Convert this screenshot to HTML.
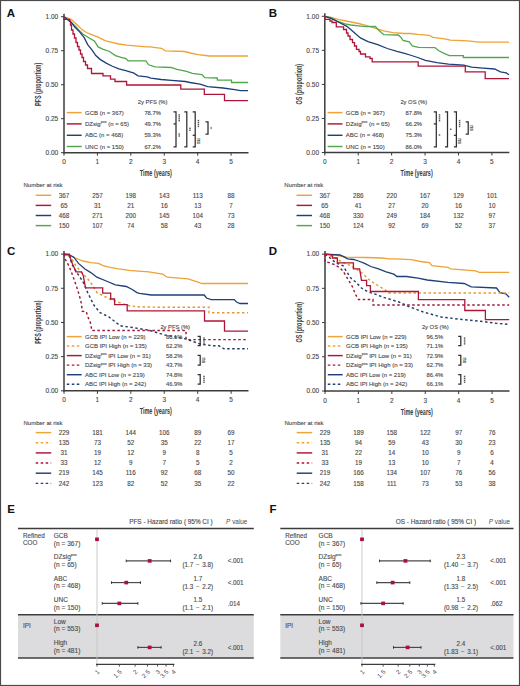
<!DOCTYPE html><html><head><meta charset="utf-8"><style>html,body{margin:0;padding:0;background:#fff}svg{display:block}</style></head><body>
<svg width="520" height="686" viewBox="0 0 520 686" font-family='"Liberation Sans", sans-serif'>
<rect x="0" y="0" width="520" height="686" fill="#fff"/>
<text x="6.8" y="16.8" font-size="11.5" font-weight="bold" fill="#111">A</text>
<line x1="64" y1="13.7" x2="64" y2="153.39999999999998" stroke="#3c3c3c" stroke-width="1.5"/>
<line x1="63.3" y1="152.7" x2="248.5" y2="152.7" stroke="#3c3c3c" stroke-width="1.5"/>
<line x1="61" y1="152.7" x2="64" y2="152.7" stroke="#3c3c3c" stroke-width="1"/>
<text x="58.2" y="155.0" font-size="6.5" text-anchor="end" fill="#4a4a4a" stroke="#4a4a4a" stroke-width="0.12">0.00</text>
<line x1="61" y1="118.69999999999999" x2="64" y2="118.69999999999999" stroke="#3c3c3c" stroke-width="1"/>
<text x="58.2" y="120.99999999999999" font-size="6.5" text-anchor="end" fill="#4a4a4a" stroke="#4a4a4a" stroke-width="0.12">0.25</text>
<line x1="61" y1="84.69999999999999" x2="64" y2="84.69999999999999" stroke="#3c3c3c" stroke-width="1"/>
<text x="58.2" y="86.99999999999999" font-size="6.5" text-anchor="end" fill="#4a4a4a" stroke="#4a4a4a" stroke-width="0.12">0.50</text>
<line x1="61" y1="50.69999999999999" x2="64" y2="50.69999999999999" stroke="#3c3c3c" stroke-width="1"/>
<text x="58.2" y="52.999999999999986" font-size="6.5" text-anchor="end" fill="#4a4a4a" stroke="#4a4a4a" stroke-width="0.12">0.75</text>
<line x1="61" y1="16.69999999999999" x2="64" y2="16.69999999999999" stroke="#3c3c3c" stroke-width="1"/>
<text x="58.2" y="18.99999999999999" font-size="6.5" text-anchor="end" fill="#4a4a4a" stroke="#4a4a4a" stroke-width="0.12">1.00</text>
<line x1="64.0" y1="152.7" x2="64.0" y2="155.7" stroke="#3c3c3c" stroke-width="1"/>
<text x="64.0" y="164.2" font-size="6.5" text-anchor="middle" fill="#4a4a4a" stroke="#4a4a4a" stroke-width="0.12">0</text>
<line x1="97.42" y1="152.7" x2="97.42" y2="155.7" stroke="#3c3c3c" stroke-width="1"/>
<text x="97.42" y="164.2" font-size="6.5" text-anchor="middle" fill="#4a4a4a" stroke="#4a4a4a" stroke-width="0.12">1</text>
<line x1="130.84" y1="152.7" x2="130.84" y2="155.7" stroke="#3c3c3c" stroke-width="1"/>
<text x="130.84" y="164.2" font-size="6.5" text-anchor="middle" fill="#4a4a4a" stroke="#4a4a4a" stroke-width="0.12">2</text>
<line x1="164.26" y1="152.7" x2="164.26" y2="155.7" stroke="#3c3c3c" stroke-width="1"/>
<text x="164.26" y="164.2" font-size="6.5" text-anchor="middle" fill="#4a4a4a" stroke="#4a4a4a" stroke-width="0.12">3</text>
<line x1="197.68" y1="152.7" x2="197.68" y2="155.7" stroke="#3c3c3c" stroke-width="1"/>
<text x="197.68" y="164.2" font-size="6.5" text-anchor="middle" fill="#4a4a4a" stroke="#4a4a4a" stroke-width="0.12">4</text>
<line x1="231.10000000000002" y1="152.7" x2="231.10000000000002" y2="155.7" stroke="#3c3c3c" stroke-width="1"/>
<text x="231.10000000000002" y="164.2" font-size="6.5" text-anchor="middle" fill="#4a4a4a" stroke="#4a4a4a" stroke-width="0.12">5</text>
<text x="0" y="0" font-size="8.8" font-weight="bold" text-anchor="middle" fill="#3a3a3a" transform="translate(155.8,176.29999999999998) scale(0.625 1)">Time (years)</text>
<text x="0" y="0" font-size="8.8" font-weight="bold" text-anchor="middle" fill="#3a3a3a" transform="translate(41.0,84.39999999999999) rotate(-90) scale(0.62 1)">PFS (proportion)</text>
<polyline points="64.0,16.7 71.5,19.6 77.3,25.0 81.9,29.6 86.5,32.5 92.3,34.8 98.1,37.1 105.0,40.6 111.9,42.3 118.8,44.0 126.9,45.2 135.0,45.8 146.5,46.9 150.0,46.9 161.5,48.3 165.4,50.8 184.6,51.5 190.4,53.0 198.0,54.6 209.6,56.0 248.0,56.0" fill="none" stroke="#EFA235" stroke-width="1.3" stroke-linejoin="miter"/>
<polyline points="64.0,16.7 75.0,25.6 78.5,29.6 83.1,34.2 88.8,37.7 94.6,41.2 98.1,46.9 102.7,49.2 109.6,51.5 115.4,55.6 121.2,57.3 125.8,58.5 128.1,60.8 146.0,60.8 148.5,64.8 154.2,66.7 155.8,66.9 171.0,67.5 177.0,69.4 186.5,71.3 192.3,73.3 202.0,74.6 204.8,77.7 217.3,78.0 217.3,80.2 231.5,80.2 231.5,82.5 248.0,82.5" fill="none" stroke="#52A64E" stroke-width="1.3" stroke-linejoin="miter"/>
<polyline points="64.0,16.7 71.5,22.5 75.0,27.3 79.6,31.9 84.2,37.7 87.7,44.6 92.3,50.4 95.8,55.6 100.4,59.6 106.2,63.1 111.9,66.0 118.8,68.8 125.8,70.6 131.5,72.3 133.5,72.9 138.1,75.8 147.3,76.9 150.8,78.1 161.2,79.5 171.5,80.4 185.4,81.5 190.0,82.5 200.0,84.2 207.7,86.7 223.0,88.0 234.6,89.6 240.4,90.6 248.0,90.6" fill="none" stroke="#1F3F78" stroke-width="1.3" stroke-linejoin="miter"/>
<polyline points="64.0,16.7 64.0,19.3 69.5,19.3 69.5,21.0 70.5,21.0 70.5,25.0 71.5,25.0 71.5,30.0 73.0,30.0 73.0,34.0 74.5,34.0 74.5,38.0 76.0,38.0 76.0,42.5 77.5,42.5 77.5,46.5 79.0,46.5 79.0,50.0 80.5,50.0 80.5,54.0 82.0,54.0 82.0,57.5 83.5,57.5 83.5,61.5 85.5,61.5 85.5,65.0 87.5,65.0 87.5,68.5 91.5,68.5 91.5,73.5 103.0,73.5 103.0,75.8 110.5,75.8 110.5,79.2 115.0,79.2 115.0,81.5 126.6,81.5 126.6,85.0 180.8,85.0 180.8,89.2 204.3,89.2 204.3,94.4 224.5,94.4 224.5,100.6 248.0,100.6" fill="none" stroke="#AE1539" stroke-width="1.3" stroke-linejoin="miter"/>
<text x="137.8" y="103.6" font-size="5.8" text-anchor="start" fill="#4a4a4a" stroke="#4a4a4a" stroke-width="0.12">2y PFS (%)</text>
<line x1="66.8" y1="112.6" x2="81.7" y2="112.6" stroke="#EFA235" stroke-width="1.45"/>
<text x="85" y="114.69999999999999" font-size="6.0" text-anchor="start" fill="#4a4a4a" stroke="#4a4a4a" stroke-width="0.12">GCB (n = 367)</text>
<text x="152.6" y="114.69999999999999" font-size="5.8" text-anchor="middle" fill="#4a4a4a" stroke="#4a4a4a" stroke-width="0.12">78.7%</text>
<line x1="66.8" y1="123.9" x2="81.7" y2="123.9" stroke="#AE1539" stroke-width="1.45"/>
<text x="85" y="126.0" font-size="6.0" text-anchor="start" fill="#4a4a4a" stroke="#4a4a4a" stroke-width="0.12">DZsig<tspan font-size="3.6" dy="-2.6">pos</tspan><tspan dy="2.6"> </tspan>(n = 65)</text>
<text x="152.6" y="126.0" font-size="5.8" text-anchor="middle" fill="#4a4a4a" stroke="#4a4a4a" stroke-width="0.12">49.7%</text>
<line x1="66.8" y1="135.3" x2="81.7" y2="135.3" stroke="#1F3F78" stroke-width="1.45"/>
<text x="85" y="137.4" font-size="6.0" text-anchor="start" fill="#4a4a4a" stroke="#4a4a4a" stroke-width="0.12">ABC (n = 468)</text>
<text x="152.6" y="137.4" font-size="5.8" text-anchor="middle" fill="#4a4a4a" stroke="#4a4a4a" stroke-width="0.12">59.3%</text>
<line x1="66.8" y1="146.5" x2="81.7" y2="146.5" stroke="#52A64E" stroke-width="1.45"/>
<text x="85" y="148.6" font-size="6.0" text-anchor="start" fill="#4a4a4a" stroke="#4a4a4a" stroke-width="0.12">UNC (n = 150)</text>
<text x="152.6" y="148.6" font-size="5.8" text-anchor="middle" fill="#4a4a4a" stroke="#4a4a4a" stroke-width="0.12">67.2%</text>
<polyline points="173.5,111.8 176.0,111.8 176.0,146.9 173.5,146.9" fill="none" stroke="#2e2e2e" stroke-width="1.25"/>
<line x1="173.5" y1="123.9" x2="176.0" y2="123.9" stroke="#2e2e2e" stroke-width="1.25"/>
<rect x="178.45000000000002" y="114.175" width="1.5" height="1.4" fill="#585858"/>
<rect x="178.45000000000002" y="116.125" width="1.5" height="1.4" fill="#585858"/>
<rect x="178.45000000000002" y="118.075" width="1.5" height="1.4" fill="#585858"/>
<rect x="178.45000000000002" y="120.02499999999999" width="1.5" height="1.4" fill="#585858"/>
<rect x="178.45000000000002" y="133.32500000000002" width="1.5" height="1.4" fill="#585858"/>
<rect x="178.45000000000002" y="135.275" width="1.5" height="1.4" fill="#585858"/>
<polyline points="184.3,111.8 186.8,111.8 186.8,146.9 184.3,146.9" fill="none" stroke="#2e2e2e" stroke-width="1.25"/>
<rect x="189.25000000000003" y="127.62500000000001" width="1.5" height="1.4" fill="#585858"/>
<rect x="189.25000000000003" y="129.57500000000002" width="1.5" height="1.4" fill="#585858"/>
<polyline points="192.7,111.8 195.2,111.8 195.2,146.9 192.7,146.9" fill="none" stroke="#2e2e2e" stroke-width="1.25"/>
<line x1="192.7" y1="135.3" x2="195.2" y2="135.3" stroke="#2e2e2e" stroke-width="1.25"/>
<rect x="197.65" y="119.875" width="1.5" height="1.4" fill="#585858"/>
<rect x="197.65" y="121.825" width="1.5" height="1.4" fill="#585858"/>
<rect x="197.65" y="123.775" width="1.5" height="1.4" fill="#585858"/>
<rect x="197.65" y="125.725" width="1.5" height="1.4" fill="#585858"/>
<text x="0" y="0" font-size="5.4" text-anchor="middle" fill="#585858" stroke="#585858" stroke-width="0.2" transform="translate(196.79999999999998,141.0) rotate(90)">ns</text>
<polyline points="205.5,121.8 208.0,121.8 208.0,134.0 205.5,134.0" fill="none" stroke="#2e2e2e" stroke-width="1.25"/>
<rect x="210.45000000000002" y="127.3" width="1.5" height="1.4" fill="#585858"/>
<text x="23.5" y="187.4" font-size="6.0" text-anchor="start" fill="#4a4a4a" stroke="#4a4a4a" stroke-width="0.12">Number at risk</text>
<line x1="35.7" y1="195.3" x2="51.2" y2="195.3" stroke="#EFA235" stroke-width="1.45"/>
<text x="64.0" y="197.5" font-size="6.3" text-anchor="middle" fill="#4a4a4a" stroke="#4a4a4a" stroke-width="0.12">367</text>
<text x="97.42" y="197.5" font-size="6.3" text-anchor="middle" fill="#4a4a4a" stroke="#4a4a4a" stroke-width="0.12">257</text>
<text x="130.84" y="197.5" font-size="6.3" text-anchor="middle" fill="#4a4a4a" stroke="#4a4a4a" stroke-width="0.12">198</text>
<text x="164.26" y="197.5" font-size="6.3" text-anchor="middle" fill="#4a4a4a" stroke="#4a4a4a" stroke-width="0.12">143</text>
<text x="197.68" y="197.5" font-size="6.3" text-anchor="middle" fill="#4a4a4a" stroke="#4a4a4a" stroke-width="0.12">113</text>
<text x="231.10000000000002" y="197.5" font-size="6.3" text-anchor="middle" fill="#4a4a4a" stroke="#4a4a4a" stroke-width="0.12">88</text>
<line x1="35.7" y1="205.4" x2="51.2" y2="205.4" stroke="#AE1539" stroke-width="1.45"/>
<text x="64.0" y="207.6" font-size="6.3" text-anchor="middle" fill="#4a4a4a" stroke="#4a4a4a" stroke-width="0.12">65</text>
<text x="97.42" y="207.6" font-size="6.3" text-anchor="middle" fill="#4a4a4a" stroke="#4a4a4a" stroke-width="0.12">31</text>
<text x="130.84" y="207.6" font-size="6.3" text-anchor="middle" fill="#4a4a4a" stroke="#4a4a4a" stroke-width="0.12">21</text>
<text x="164.26" y="207.6" font-size="6.3" text-anchor="middle" fill="#4a4a4a" stroke="#4a4a4a" stroke-width="0.12">16</text>
<text x="197.68" y="207.6" font-size="6.3" text-anchor="middle" fill="#4a4a4a" stroke="#4a4a4a" stroke-width="0.12">13</text>
<text x="231.10000000000002" y="207.6" font-size="6.3" text-anchor="middle" fill="#4a4a4a" stroke="#4a4a4a" stroke-width="0.12">7</text>
<line x1="35.7" y1="215.5" x2="51.2" y2="215.5" stroke="#1F3F78" stroke-width="1.45"/>
<text x="64.0" y="217.7" font-size="6.3" text-anchor="middle" fill="#4a4a4a" stroke="#4a4a4a" stroke-width="0.12">468</text>
<text x="97.42" y="217.7" font-size="6.3" text-anchor="middle" fill="#4a4a4a" stroke="#4a4a4a" stroke-width="0.12">271</text>
<text x="130.84" y="217.7" font-size="6.3" text-anchor="middle" fill="#4a4a4a" stroke="#4a4a4a" stroke-width="0.12">200</text>
<text x="164.26" y="217.7" font-size="6.3" text-anchor="middle" fill="#4a4a4a" stroke="#4a4a4a" stroke-width="0.12">145</text>
<text x="197.68" y="217.7" font-size="6.3" text-anchor="middle" fill="#4a4a4a" stroke="#4a4a4a" stroke-width="0.12">104</text>
<text x="231.10000000000002" y="217.7" font-size="6.3" text-anchor="middle" fill="#4a4a4a" stroke="#4a4a4a" stroke-width="0.12">73</text>
<line x1="35.7" y1="225.60000000000002" x2="51.2" y2="225.60000000000002" stroke="#52A64E" stroke-width="1.45"/>
<text x="64.0" y="227.8" font-size="6.3" text-anchor="middle" fill="#4a4a4a" stroke="#4a4a4a" stroke-width="0.12">150</text>
<text x="97.42" y="227.8" font-size="6.3" text-anchor="middle" fill="#4a4a4a" stroke="#4a4a4a" stroke-width="0.12">107</text>
<text x="130.84" y="227.8" font-size="6.3" text-anchor="middle" fill="#4a4a4a" stroke="#4a4a4a" stroke-width="0.12">74</text>
<text x="164.26" y="227.8" font-size="6.3" text-anchor="middle" fill="#4a4a4a" stroke="#4a4a4a" stroke-width="0.12">58</text>
<text x="197.68" y="227.8" font-size="6.3" text-anchor="middle" fill="#4a4a4a" stroke="#4a4a4a" stroke-width="0.12">43</text>
<text x="231.10000000000002" y="227.8" font-size="6.3" text-anchor="middle" fill="#4a4a4a" stroke="#4a4a4a" stroke-width="0.12">28</text>
<text x="268.8" y="16.8" font-size="11.5" font-weight="bold" fill="#111">B</text>
<line x1="324.8" y1="13.3" x2="324.8" y2="153.2" stroke="#3c3c3c" stroke-width="1.5"/>
<line x1="324.1" y1="152.5" x2="509.3" y2="152.5" stroke="#3c3c3c" stroke-width="1.5"/>
<line x1="321.8" y1="152.5" x2="324.8" y2="152.5" stroke="#3c3c3c" stroke-width="1"/>
<text x="319.0" y="154.8" font-size="6.5" text-anchor="end" fill="#4a4a4a" stroke="#4a4a4a" stroke-width="0.12">0.00</text>
<line x1="321.8" y1="118.45" x2="324.8" y2="118.45" stroke="#3c3c3c" stroke-width="1"/>
<text x="319.0" y="120.75" font-size="6.5" text-anchor="end" fill="#4a4a4a" stroke="#4a4a4a" stroke-width="0.12">0.25</text>
<line x1="321.8" y1="84.4" x2="324.8" y2="84.4" stroke="#3c3c3c" stroke-width="1"/>
<text x="319.0" y="86.7" font-size="6.5" text-anchor="end" fill="#4a4a4a" stroke="#4a4a4a" stroke-width="0.12">0.50</text>
<line x1="321.8" y1="50.35000000000001" x2="324.8" y2="50.35000000000001" stroke="#3c3c3c" stroke-width="1"/>
<text x="319.0" y="52.650000000000006" font-size="6.5" text-anchor="end" fill="#4a4a4a" stroke="#4a4a4a" stroke-width="0.12">0.75</text>
<line x1="321.8" y1="16.30000000000001" x2="324.8" y2="16.30000000000001" stroke="#3c3c3c" stroke-width="1"/>
<text x="319.0" y="18.600000000000012" font-size="6.5" text-anchor="end" fill="#4a4a4a" stroke="#4a4a4a" stroke-width="0.12">1.00</text>
<line x1="324.8" y1="152.5" x2="324.8" y2="155.5" stroke="#3c3c3c" stroke-width="1"/>
<text x="324.8" y="164.0" font-size="6.5" text-anchor="middle" fill="#4a4a4a" stroke="#4a4a4a" stroke-width="0.12">0</text>
<line x1="358.22" y1="152.5" x2="358.22" y2="155.5" stroke="#3c3c3c" stroke-width="1"/>
<text x="358.22" y="164.0" font-size="6.5" text-anchor="middle" fill="#4a4a4a" stroke="#4a4a4a" stroke-width="0.12">1</text>
<line x1="391.64" y1="152.5" x2="391.64" y2="155.5" stroke="#3c3c3c" stroke-width="1"/>
<text x="391.64" y="164.0" font-size="6.5" text-anchor="middle" fill="#4a4a4a" stroke="#4a4a4a" stroke-width="0.12">2</text>
<line x1="425.06" y1="152.5" x2="425.06" y2="155.5" stroke="#3c3c3c" stroke-width="1"/>
<text x="425.06" y="164.0" font-size="6.5" text-anchor="middle" fill="#4a4a4a" stroke="#4a4a4a" stroke-width="0.12">3</text>
<line x1="458.48" y1="152.5" x2="458.48" y2="155.5" stroke="#3c3c3c" stroke-width="1"/>
<text x="458.48" y="164.0" font-size="6.5" text-anchor="middle" fill="#4a4a4a" stroke="#4a4a4a" stroke-width="0.12">4</text>
<line x1="491.90000000000003" y1="152.5" x2="491.90000000000003" y2="155.5" stroke="#3c3c3c" stroke-width="1"/>
<text x="491.90000000000003" y="164.0" font-size="6.5" text-anchor="middle" fill="#4a4a4a" stroke="#4a4a4a" stroke-width="0.12">5</text>
<text x="0" y="0" font-size="8.8" font-weight="bold" text-anchor="middle" fill="#3a3a3a" transform="translate(416.6,176.1) scale(0.625 1)">Time (years)</text>
<text x="0" y="0" font-size="8.8" font-weight="bold" text-anchor="middle" fill="#3a3a3a" transform="translate(301.8,84.10000000000001) rotate(-90) scale(0.62 1)">OS (proportion)</text>
<polyline points="324.8,16.3 331.5,17.7 339.2,19.6 348.8,21.5 358.5,23.5 366.0,25.4 375.8,28.3 383.5,30.8 393.0,32.7 404.6,33.5 410.0,33.5 417.7,34.4 429.2,35.4 433.0,37.3 444.6,38.8 450.4,40.2 467.7,40.8 479.2,42.1 509.0,42.1" fill="none" stroke="#EFA235" stroke-width="1.3" stroke-linejoin="miter"/>
<polyline points="324.8,16.3 331.5,17.7 337.3,21.2 345.0,23.8 350.8,25.0 358.5,25.8 366.0,26.7 375.4,26.5 378.0,29.5 381.5,32.7 383.8,34.7 398.5,35.0 401.5,38.1 403.0,40.4 409.2,41.9 412.3,45.8 418.5,47.3 435.0,47.6 438.8,50.8 444.6,53.7 449.4,55.6 463.3,55.6 463.3,57.5 509.0,57.5" fill="none" stroke="#52A64E" stroke-width="1.3" stroke-linejoin="miter"/>
<polyline points="324.8,16.3 331.5,18.7 339.2,22.5 346.9,26.3 352.7,31.2 360.4,37.9 368.0,41.7 377.7,44.6 387.3,48.5 396.9,51.3 404.6,53.3 410.0,55.0 417.7,57.5 425.4,60.4 436.9,62.7 448.5,64.2 463.8,65.2 471.5,67.1 483.0,68.1 494.6,69.0 500.4,71.9 506.2,72.9 509.0,74.8" fill="none" stroke="#1F3F78" stroke-width="1.3" stroke-linejoin="miter"/>
<polyline points="324.8,16.3 324.8,19.4 330.0,19.4 330.0,21.0 332.0,21.0 332.0,22.5 336.3,22.5 336.3,26.8 343.5,26.8 343.5,29.5 346.5,29.5 346.5,33.0 348.0,33.0 348.0,36.0 350.0,36.0 350.0,39.5 352.5,39.5 352.5,42.7 354.5,42.7 354.5,46.0 356.5,46.0 356.5,49.3 359.0,49.3 359.0,51.5 360.5,51.5 360.5,54.0 365.5,54.0 365.5,56.8 370.0,56.8 370.0,58.5 372.2,58.5 372.2,61.9 418.2,61.9 418.2,66.2 465.3,66.2 465.3,71.9 485.2,71.9 485.2,78.7 509.0,78.7" fill="none" stroke="#AE1539" stroke-width="1.3" stroke-linejoin="miter"/>
<text x="400.4" y="103.6" font-size="5.8" text-anchor="start" fill="#4a4a4a" stroke="#4a4a4a" stroke-width="0.12">2y OS (%)</text>
<line x1="327.6" y1="112.6" x2="342.5" y2="112.6" stroke="#EFA235" stroke-width="1.45"/>
<text x="345.8" y="114.69999999999999" font-size="6.0" text-anchor="start" fill="#4a4a4a" stroke="#4a4a4a" stroke-width="0.12">GCB (n = 367)</text>
<text x="413.8" y="114.69999999999999" font-size="5.8" text-anchor="middle" fill="#4a4a4a" stroke="#4a4a4a" stroke-width="0.12">87.8%</text>
<line x1="327.6" y1="123.9" x2="342.5" y2="123.9" stroke="#AE1539" stroke-width="1.45"/>
<text x="345.8" y="126.0" font-size="6.0" text-anchor="start" fill="#4a4a4a" stroke="#4a4a4a" stroke-width="0.12">DZsig<tspan font-size="3.6" dy="-2.6">pos</tspan><tspan dy="2.6"> </tspan>(n = 65)</text>
<text x="413.8" y="126.0" font-size="5.8" text-anchor="middle" fill="#4a4a4a" stroke="#4a4a4a" stroke-width="0.12">66.2%</text>
<line x1="327.6" y1="135.3" x2="342.5" y2="135.3" stroke="#1F3F78" stroke-width="1.45"/>
<text x="345.8" y="137.4" font-size="6.0" text-anchor="start" fill="#4a4a4a" stroke="#4a4a4a" stroke-width="0.12">ABC (n = 468)</text>
<text x="413.8" y="137.4" font-size="5.8" text-anchor="middle" fill="#4a4a4a" stroke="#4a4a4a" stroke-width="0.12">75.3%</text>
<line x1="327.6" y1="146.5" x2="342.5" y2="146.5" stroke="#52A64E" stroke-width="1.45"/>
<text x="345.8" y="148.6" font-size="6.0" text-anchor="start" fill="#4a4a4a" stroke="#4a4a4a" stroke-width="0.12">UNC (n = 150)</text>
<text x="413.8" y="148.6" font-size="5.8" text-anchor="middle" fill="#4a4a4a" stroke="#4a4a4a" stroke-width="0.12">86.0%</text>
<polyline points="433.8,111.8 436.3,111.8 436.3,146.9 433.8,146.9" fill="none" stroke="#2e2e2e" stroke-width="1.25"/>
<line x1="433.8" y1="123.9" x2="436.3" y2="123.9" stroke="#2e2e2e" stroke-width="1.25"/>
<rect x="438.75" y="114.175" width="1.5" height="1.4" fill="#585858"/>
<rect x="438.75" y="116.125" width="1.5" height="1.4" fill="#585858"/>
<rect x="438.75" y="118.075" width="1.5" height="1.4" fill="#585858"/>
<rect x="438.75" y="120.02499999999999" width="1.5" height="1.4" fill="#585858"/>
<rect x="438.75" y="134.3" width="1.5" height="1.4" fill="#585858"/>
<polyline points="445.0,111.8 447.5,111.8 447.5,146.9 445.0,146.9" fill="none" stroke="#2e2e2e" stroke-width="1.25"/>
<rect x="449.95" y="128.60000000000002" width="1.5" height="1.4" fill="#585858"/>
<polyline points="453.9,111.8 456.4,111.8 456.4,146.9 453.9,146.9" fill="none" stroke="#2e2e2e" stroke-width="1.25"/>
<line x1="453.9" y1="135.3" x2="456.4" y2="135.3" stroke="#2e2e2e" stroke-width="1.25"/>
<rect x="458.84999999999997" y="119.875" width="1.5" height="1.4" fill="#585858"/>
<rect x="458.84999999999997" y="121.825" width="1.5" height="1.4" fill="#585858"/>
<rect x="458.84999999999997" y="123.775" width="1.5" height="1.4" fill="#585858"/>
<rect x="458.84999999999997" y="125.725" width="1.5" height="1.4" fill="#585858"/>
<text x="0" y="0" font-size="5.4" text-anchor="middle" fill="#585858" stroke="#585858" stroke-width="0.2" transform="translate(457.99999999999994,141.0) rotate(90)">ns</text>
<polyline points="465.7,121.8 468.2,121.8 468.2,134.0 465.7,134.0" fill="none" stroke="#2e2e2e" stroke-width="1.25"/>
<text x="0" y="0" font-size="5.4" text-anchor="middle" fill="#585858" stroke="#585858" stroke-width="0.2" transform="translate(469.79999999999995,128.0) rotate(90)">ns</text>
<text x="284.3" y="187.4" font-size="6.0" text-anchor="start" fill="#4a4a4a" stroke="#4a4a4a" stroke-width="0.12">Number at risk</text>
<line x1="296.5" y1="195.3" x2="312.0" y2="195.3" stroke="#EFA235" stroke-width="1.45"/>
<text x="324.8" y="197.5" font-size="6.3" text-anchor="middle" fill="#4a4a4a" stroke="#4a4a4a" stroke-width="0.12">367</text>
<text x="358.22" y="197.5" font-size="6.3" text-anchor="middle" fill="#4a4a4a" stroke="#4a4a4a" stroke-width="0.12">286</text>
<text x="391.64" y="197.5" font-size="6.3" text-anchor="middle" fill="#4a4a4a" stroke="#4a4a4a" stroke-width="0.12">220</text>
<text x="425.06" y="197.5" font-size="6.3" text-anchor="middle" fill="#4a4a4a" stroke="#4a4a4a" stroke-width="0.12">167</text>
<text x="458.48" y="197.5" font-size="6.3" text-anchor="middle" fill="#4a4a4a" stroke="#4a4a4a" stroke-width="0.12">129</text>
<text x="491.90000000000003" y="197.5" font-size="6.3" text-anchor="middle" fill="#4a4a4a" stroke="#4a4a4a" stroke-width="0.12">101</text>
<line x1="296.5" y1="205.4" x2="312.0" y2="205.4" stroke="#AE1539" stroke-width="1.45"/>
<text x="324.8" y="207.6" font-size="6.3" text-anchor="middle" fill="#4a4a4a" stroke="#4a4a4a" stroke-width="0.12">65</text>
<text x="358.22" y="207.6" font-size="6.3" text-anchor="middle" fill="#4a4a4a" stroke="#4a4a4a" stroke-width="0.12">41</text>
<text x="391.64" y="207.6" font-size="6.3" text-anchor="middle" fill="#4a4a4a" stroke="#4a4a4a" stroke-width="0.12">27</text>
<text x="425.06" y="207.6" font-size="6.3" text-anchor="middle" fill="#4a4a4a" stroke="#4a4a4a" stroke-width="0.12">20</text>
<text x="458.48" y="207.6" font-size="6.3" text-anchor="middle" fill="#4a4a4a" stroke="#4a4a4a" stroke-width="0.12">16</text>
<text x="491.90000000000003" y="207.6" font-size="6.3" text-anchor="middle" fill="#4a4a4a" stroke="#4a4a4a" stroke-width="0.12">10</text>
<line x1="296.5" y1="215.5" x2="312.0" y2="215.5" stroke="#1F3F78" stroke-width="1.45"/>
<text x="324.8" y="217.7" font-size="6.3" text-anchor="middle" fill="#4a4a4a" stroke="#4a4a4a" stroke-width="0.12">468</text>
<text x="358.22" y="217.7" font-size="6.3" text-anchor="middle" fill="#4a4a4a" stroke="#4a4a4a" stroke-width="0.12">330</text>
<text x="391.64" y="217.7" font-size="6.3" text-anchor="middle" fill="#4a4a4a" stroke="#4a4a4a" stroke-width="0.12">249</text>
<text x="425.06" y="217.7" font-size="6.3" text-anchor="middle" fill="#4a4a4a" stroke="#4a4a4a" stroke-width="0.12">184</text>
<text x="458.48" y="217.7" font-size="6.3" text-anchor="middle" fill="#4a4a4a" stroke="#4a4a4a" stroke-width="0.12">132</text>
<text x="491.90000000000003" y="217.7" font-size="6.3" text-anchor="middle" fill="#4a4a4a" stroke="#4a4a4a" stroke-width="0.12">97</text>
<line x1="296.5" y1="225.60000000000002" x2="312.0" y2="225.60000000000002" stroke="#52A64E" stroke-width="1.45"/>
<text x="324.8" y="227.8" font-size="6.3" text-anchor="middle" fill="#4a4a4a" stroke="#4a4a4a" stroke-width="0.12">150</text>
<text x="358.22" y="227.8" font-size="6.3" text-anchor="middle" fill="#4a4a4a" stroke="#4a4a4a" stroke-width="0.12">124</text>
<text x="391.64" y="227.8" font-size="6.3" text-anchor="middle" fill="#4a4a4a" stroke="#4a4a4a" stroke-width="0.12">92</text>
<text x="425.06" y="227.8" font-size="6.3" text-anchor="middle" fill="#4a4a4a" stroke="#4a4a4a" stroke-width="0.12">69</text>
<text x="458.48" y="227.8" font-size="6.3" text-anchor="middle" fill="#4a4a4a" stroke="#4a4a4a" stroke-width="0.12">52</text>
<text x="491.90000000000003" y="227.8" font-size="6.3" text-anchor="middle" fill="#4a4a4a" stroke="#4a4a4a" stroke-width="0.12">37</text>
<text x="7.0" y="254.6" font-size="11.5" font-weight="bold" fill="#111">C</text>
<line x1="64" y1="251.1" x2="64" y2="391.5" stroke="#3c3c3c" stroke-width="1.5"/>
<line x1="63.3" y1="390.8" x2="248.5" y2="390.8" stroke="#3c3c3c" stroke-width="1.5"/>
<line x1="61" y1="390.8" x2="64" y2="390.8" stroke="#3c3c3c" stroke-width="1"/>
<text x="58.2" y="393.1" font-size="6.5" text-anchor="end" fill="#4a4a4a" stroke="#4a4a4a" stroke-width="0.12">0.00</text>
<line x1="61" y1="356.625" x2="64" y2="356.625" stroke="#3c3c3c" stroke-width="1"/>
<text x="58.2" y="358.925" font-size="6.5" text-anchor="end" fill="#4a4a4a" stroke="#4a4a4a" stroke-width="0.12">0.25</text>
<line x1="61" y1="322.45" x2="64" y2="322.45" stroke="#3c3c3c" stroke-width="1"/>
<text x="58.2" y="324.75" font-size="6.5" text-anchor="end" fill="#4a4a4a" stroke="#4a4a4a" stroke-width="0.12">0.50</text>
<line x1="61" y1="288.275" x2="64" y2="288.275" stroke="#3c3c3c" stroke-width="1"/>
<text x="58.2" y="290.575" font-size="6.5" text-anchor="end" fill="#4a4a4a" stroke="#4a4a4a" stroke-width="0.12">0.75</text>
<line x1="61" y1="254.1" x2="64" y2="254.1" stroke="#3c3c3c" stroke-width="1"/>
<text x="58.2" y="256.4" font-size="6.5" text-anchor="end" fill="#4a4a4a" stroke="#4a4a4a" stroke-width="0.12">1.00</text>
<line x1="64.0" y1="390.8" x2="64.0" y2="393.8" stroke="#3c3c3c" stroke-width="1"/>
<text x="64.0" y="402.3" font-size="6.5" text-anchor="middle" fill="#4a4a4a" stroke="#4a4a4a" stroke-width="0.12">0</text>
<line x1="97.42" y1="390.8" x2="97.42" y2="393.8" stroke="#3c3c3c" stroke-width="1"/>
<text x="97.42" y="402.3" font-size="6.5" text-anchor="middle" fill="#4a4a4a" stroke="#4a4a4a" stroke-width="0.12">1</text>
<line x1="130.84" y1="390.8" x2="130.84" y2="393.8" stroke="#3c3c3c" stroke-width="1"/>
<text x="130.84" y="402.3" font-size="6.5" text-anchor="middle" fill="#4a4a4a" stroke="#4a4a4a" stroke-width="0.12">2</text>
<line x1="164.26" y1="390.8" x2="164.26" y2="393.8" stroke="#3c3c3c" stroke-width="1"/>
<text x="164.26" y="402.3" font-size="6.5" text-anchor="middle" fill="#4a4a4a" stroke="#4a4a4a" stroke-width="0.12">3</text>
<line x1="197.68" y1="390.8" x2="197.68" y2="393.8" stroke="#3c3c3c" stroke-width="1"/>
<text x="197.68" y="402.3" font-size="6.5" text-anchor="middle" fill="#4a4a4a" stroke="#4a4a4a" stroke-width="0.12">4</text>
<line x1="231.10000000000002" y1="390.8" x2="231.10000000000002" y2="393.8" stroke="#3c3c3c" stroke-width="1"/>
<text x="231.10000000000002" y="402.3" font-size="6.5" text-anchor="middle" fill="#4a4a4a" stroke="#4a4a4a" stroke-width="0.12">5</text>
<text x="0" y="0" font-size="8.8" font-weight="bold" text-anchor="middle" fill="#3a3a3a" transform="translate(155.8,414.40000000000003) scale(0.625 1)">Time (years)</text>
<text x="0" y="0" font-size="8.8" font-weight="bold" text-anchor="middle" fill="#3a3a3a" transform="translate(41.0,322.15) rotate(-90) scale(0.62 1)">PFS (proportion)</text>
<polyline points="64.0,254.2 69.2,255.0 75.4,258.0 83.0,261.0 90.8,262.6 98.5,263.4 103.0,265.7 109.2,267.2 118.5,268.8 129.2,270.3 135.0,270.8 148.8,271.9 162.7,274.2 167.3,277.2 188.0,278.8 197.3,281.8 202.0,283.5 248.0,283.5" fill="none" stroke="#EFA235" stroke-width="1.3" stroke-linejoin="miter"/>
<polyline points="64.0,254.2 69.2,255.0 73.8,257.2 78.5,263.4 84.6,268.8 90.8,272.6 96.9,277.2 106.2,281.0 115.4,284.9 126.2,286.5 132.3,289.5 136.9,292.6 139.6,293.4 151.2,295.0 204.2,295.0 206.5,298.0 211.2,299.6 234.2,299.6 236.5,302.0 240.0,303.5 248.0,303.5" fill="none" stroke="#1F3F78" stroke-width="1.3" stroke-linejoin="miter"/>
<polyline points="64.0,254.2 70.8,257.2 75.4,265.0 81.5,272.6 87.7,278.8 92.3,284.9 96.9,292.6 103.0,295.7 109.2,298.8 121.5,303.4 129.2,305.7 140.0,307.0 160.4,307.2 209.0,307.2 209.0,312.8 248.0,312.8" fill="none" stroke="#E39A35" stroke-width="1.45" stroke-linejoin="miter" stroke-dasharray="2.5 2.5"/>
<polyline points="64.0,254.2 69.2,255.7 72.3,265.0 76.9,272.6 83.0,281.8 87.7,292.6 93.8,305.0 100.0,312.6 105.0,315.0 109.2,317.2 120.4,325.8 135.8,328.0 149.6,330.4 165.0,335.0 186.0,339.0 200.0,344.0 212.0,345.7 219.0,345.7 224.0,348.8 248.0,348.8" fill="none" stroke="#24406A" stroke-width="1.45" stroke-linejoin="miter" stroke-dasharray="2.5 2.5"/>
<polyline points="64.0,254.2 64.6,258.5 67.3,262.7 70.0,268.5 72.5,275.0 74.7,281.1 77.9,290.6 80.0,298.0 81.6,304.3 82.1,311.2 86.3,311.7 87.9,317.0 90.0,321.3 91.1,325.5 91.6,330.5 186.0,330.5 186.0,339.6 248.0,339.6" fill="none" stroke="#A01838" stroke-width="1.45" stroke-linejoin="miter" stroke-dasharray="2.5 2.5"/>
<polyline points="64.0,254.2 69.4,254.2 70.5,258.5 72.5,264.0 74.5,268.5 75.8,271.8 81.6,271.8 83.2,275.4 84.2,280.7 85.5,287.9 102.7,287.9 102.7,293.2 110.7,293.2 110.7,299.0 114.6,299.0 114.6,304.7 127.2,304.6 127.2,310.8 204.5,310.8 204.5,321.0 224.5,321.0 224.5,331.2 248.0,331.2" fill="none" stroke="#AE1539" stroke-width="1.3" stroke-linejoin="miter"/>
<text x="160.4" y="328.9" font-size="5.8" text-anchor="start" fill="#4a4a4a" stroke="#4a4a4a" stroke-width="0.12">2y PFS (%)</text>
<line x1="66.8" y1="336.6" x2="81.7" y2="336.6" stroke="#EFA235" stroke-width="1.45"/>
<text x="85" y="338.70000000000005" font-size="6.0" text-anchor="start" fill="#4a4a4a" stroke="#4a4a4a" stroke-width="0.12">GCB IPI Low (n = 229)</text>
<text x="166.0" y="338.70000000000005" font-size="5.8" text-anchor="start" fill="#4a4a4a" stroke="#4a4a4a" stroke-width="0.12">88.1%</text>
<line x1="66.8" y1="346.0" x2="81.7" y2="346.0" stroke="#EFA235" stroke-width="1.45" stroke-dasharray="2.5 2.5"/>
<text x="85" y="348.1" font-size="6.0" text-anchor="start" fill="#4a4a4a" stroke="#4a4a4a" stroke-width="0.12">GCB IPI High (n = 135)</text>
<text x="166.0" y="348.1" font-size="5.8" text-anchor="start" fill="#4a4a4a" stroke="#4a4a4a" stroke-width="0.12">62.2%</text>
<line x1="66.8" y1="355.6" x2="81.7" y2="355.6" stroke="#AE1539" stroke-width="1.45"/>
<text x="85" y="357.70000000000005" font-size="6.0" text-anchor="start" fill="#4a4a4a" stroke="#4a4a4a" stroke-width="0.12">DZsig<tspan font-size="3.6" dy="-2.6">pos</tspan><tspan dy="2.6"> </tspan>IPI Low (n = 31)</text>
<text x="166.0" y="357.70000000000005" font-size="5.8" text-anchor="start" fill="#4a4a4a" stroke="#4a4a4a" stroke-width="0.12">58.2%</text>
<line x1="66.8" y1="365.1" x2="81.7" y2="365.1" stroke="#AE1539" stroke-width="1.45" stroke-dasharray="2.5 2.5"/>
<text x="85" y="367.20000000000005" font-size="6.0" text-anchor="start" fill="#4a4a4a" stroke="#4a4a4a" stroke-width="0.12">DZsig<tspan font-size="3.6" dy="-2.6">pos</tspan><tspan dy="2.6"> </tspan>IPI High (n = 33)</text>
<text x="166.0" y="367.20000000000005" font-size="5.8" text-anchor="start" fill="#4a4a4a" stroke="#4a4a4a" stroke-width="0.12">43.7%</text>
<line x1="66.8" y1="374.7" x2="81.7" y2="374.7" stroke="#1F3F78" stroke-width="1.45"/>
<text x="85" y="376.8" font-size="6.0" text-anchor="start" fill="#4a4a4a" stroke="#4a4a4a" stroke-width="0.12">ABC IPI Low (n = 219)</text>
<text x="166.0" y="376.8" font-size="5.8" text-anchor="start" fill="#4a4a4a" stroke="#4a4a4a" stroke-width="0.12">74.8%</text>
<line x1="66.8" y1="384.3" x2="81.7" y2="384.3" stroke="#1F3F78" stroke-width="1.45" stroke-dasharray="2.5 2.5"/>
<text x="85" y="386.40000000000003" font-size="6.0" text-anchor="start" fill="#4a4a4a" stroke="#4a4a4a" stroke-width="0.12">ABC IPI High (n = 242)</text>
<text x="166.0" y="386.40000000000003" font-size="5.8" text-anchor="start" fill="#4a4a4a" stroke="#4a4a4a" stroke-width="0.12">46.9%</text>
<polyline points="197.6,336.3 200.2,336.3 200.2,345.6 197.6,345.6" fill="none" stroke="#2e2e2e" stroke-width="1.25"/>
<rect x="203.25" y="337.32500000000005" width="1.5" height="1.4" fill="#585858"/>
<rect x="203.25" y="339.27500000000003" width="1.5" height="1.4" fill="#585858"/>
<rect x="203.25" y="341.225" width="1.5" height="1.4" fill="#585858"/>
<rect x="203.25" y="343.17500000000007" width="1.5" height="1.4" fill="#585858"/>
<polyline points="197.6,355.3 200.2,355.3 200.2,365.2 197.6,365.2" fill="none" stroke="#2e2e2e" stroke-width="1.25"/>
<text x="0" y="0" font-size="5.4" text-anchor="middle" fill="#585858" stroke="#585858" stroke-width="0.2" transform="translate(202.39999999999998,360.25) rotate(90)">ns</text>
<polyline points="197.6,374.5 200.2,374.5 200.2,384.2 197.6,384.2" fill="none" stroke="#2e2e2e" stroke-width="1.25"/>
<rect x="203.25" y="375.725" width="1.5" height="1.4" fill="#585858"/>
<rect x="203.25" y="377.675" width="1.5" height="1.4" fill="#585858"/>
<rect x="203.25" y="379.625" width="1.5" height="1.4" fill="#585858"/>
<rect x="203.25" y="381.57500000000005" width="1.5" height="1.4" fill="#585858"/>
<text x="23.5" y="424.70000000000005" font-size="6.0" text-anchor="start" fill="#4a4a4a" stroke="#4a4a4a" stroke-width="0.12">Number at risk</text>
<line x1="35.7" y1="432.6" x2="51.2" y2="432.6" stroke="#EFA235" stroke-width="1.45"/>
<text x="64.0" y="434.8" font-size="6.3" text-anchor="middle" fill="#4a4a4a" stroke="#4a4a4a" stroke-width="0.12">229</text>
<text x="97.42" y="434.8" font-size="6.3" text-anchor="middle" fill="#4a4a4a" stroke="#4a4a4a" stroke-width="0.12">181</text>
<text x="130.84" y="434.8" font-size="6.3" text-anchor="middle" fill="#4a4a4a" stroke="#4a4a4a" stroke-width="0.12">144</text>
<text x="164.26" y="434.8" font-size="6.3" text-anchor="middle" fill="#4a4a4a" stroke="#4a4a4a" stroke-width="0.12">106</text>
<text x="197.68" y="434.8" font-size="6.3" text-anchor="middle" fill="#4a4a4a" stroke="#4a4a4a" stroke-width="0.12">89</text>
<text x="231.10000000000002" y="434.8" font-size="6.3" text-anchor="middle" fill="#4a4a4a" stroke="#4a4a4a" stroke-width="0.12">69</text>
<line x1="35.7" y1="442.75" x2="51.2" y2="442.75" stroke="#EFA235" stroke-width="1.45" stroke-dasharray="2.5 2.5"/>
<text x="64.0" y="444.95" font-size="6.3" text-anchor="middle" fill="#4a4a4a" stroke="#4a4a4a" stroke-width="0.12">135</text>
<text x="97.42" y="444.95" font-size="6.3" text-anchor="middle" fill="#4a4a4a" stroke="#4a4a4a" stroke-width="0.12">73</text>
<text x="130.84" y="444.95" font-size="6.3" text-anchor="middle" fill="#4a4a4a" stroke="#4a4a4a" stroke-width="0.12">52</text>
<text x="164.26" y="444.95" font-size="6.3" text-anchor="middle" fill="#4a4a4a" stroke="#4a4a4a" stroke-width="0.12">35</text>
<text x="197.68" y="444.95" font-size="6.3" text-anchor="middle" fill="#4a4a4a" stroke="#4a4a4a" stroke-width="0.12">22</text>
<text x="231.10000000000002" y="444.95" font-size="6.3" text-anchor="middle" fill="#4a4a4a" stroke="#4a4a4a" stroke-width="0.12">17</text>
<line x1="35.7" y1="452.90000000000003" x2="51.2" y2="452.90000000000003" stroke="#AE1539" stroke-width="1.45"/>
<text x="64.0" y="455.1" font-size="6.3" text-anchor="middle" fill="#4a4a4a" stroke="#4a4a4a" stroke-width="0.12">31</text>
<text x="97.42" y="455.1" font-size="6.3" text-anchor="middle" fill="#4a4a4a" stroke="#4a4a4a" stroke-width="0.12">19</text>
<text x="130.84" y="455.1" font-size="6.3" text-anchor="middle" fill="#4a4a4a" stroke="#4a4a4a" stroke-width="0.12">12</text>
<text x="164.26" y="455.1" font-size="6.3" text-anchor="middle" fill="#4a4a4a" stroke="#4a4a4a" stroke-width="0.12">9</text>
<text x="197.68" y="455.1" font-size="6.3" text-anchor="middle" fill="#4a4a4a" stroke="#4a4a4a" stroke-width="0.12">8</text>
<text x="231.10000000000002" y="455.1" font-size="6.3" text-anchor="middle" fill="#4a4a4a" stroke="#4a4a4a" stroke-width="0.12">5</text>
<line x1="35.7" y1="463.05" x2="51.2" y2="463.05" stroke="#AE1539" stroke-width="1.45" stroke-dasharray="2.5 2.5"/>
<text x="64.0" y="465.25" font-size="6.3" text-anchor="middle" fill="#4a4a4a" stroke="#4a4a4a" stroke-width="0.12">33</text>
<text x="97.42" y="465.25" font-size="6.3" text-anchor="middle" fill="#4a4a4a" stroke="#4a4a4a" stroke-width="0.12">12</text>
<text x="130.84" y="465.25" font-size="6.3" text-anchor="middle" fill="#4a4a4a" stroke="#4a4a4a" stroke-width="0.12">9</text>
<text x="164.26" y="465.25" font-size="6.3" text-anchor="middle" fill="#4a4a4a" stroke="#4a4a4a" stroke-width="0.12">7</text>
<text x="197.68" y="465.25" font-size="6.3" text-anchor="middle" fill="#4a4a4a" stroke="#4a4a4a" stroke-width="0.12">5</text>
<text x="231.10000000000002" y="465.25" font-size="6.3" text-anchor="middle" fill="#4a4a4a" stroke="#4a4a4a" stroke-width="0.12">2</text>
<line x1="35.7" y1="473.20000000000005" x2="51.2" y2="473.20000000000005" stroke="#1F3F78" stroke-width="1.45"/>
<text x="64.0" y="475.40000000000003" font-size="6.3" text-anchor="middle" fill="#4a4a4a" stroke="#4a4a4a" stroke-width="0.12">219</text>
<text x="97.42" y="475.40000000000003" font-size="6.3" text-anchor="middle" fill="#4a4a4a" stroke="#4a4a4a" stroke-width="0.12">145</text>
<text x="130.84" y="475.40000000000003" font-size="6.3" text-anchor="middle" fill="#4a4a4a" stroke="#4a4a4a" stroke-width="0.12">116</text>
<text x="164.26" y="475.40000000000003" font-size="6.3" text-anchor="middle" fill="#4a4a4a" stroke="#4a4a4a" stroke-width="0.12">92</text>
<text x="197.68" y="475.40000000000003" font-size="6.3" text-anchor="middle" fill="#4a4a4a" stroke="#4a4a4a" stroke-width="0.12">68</text>
<text x="231.10000000000002" y="475.40000000000003" font-size="6.3" text-anchor="middle" fill="#4a4a4a" stroke="#4a4a4a" stroke-width="0.12">50</text>
<line x1="35.7" y1="483.35" x2="51.2" y2="483.35" stroke="#1F3F78" stroke-width="1.45" stroke-dasharray="2.5 2.5"/>
<text x="64.0" y="485.55" font-size="6.3" text-anchor="middle" fill="#4a4a4a" stroke="#4a4a4a" stroke-width="0.12">242</text>
<text x="97.42" y="485.55" font-size="6.3" text-anchor="middle" fill="#4a4a4a" stroke="#4a4a4a" stroke-width="0.12">123</text>
<text x="130.84" y="485.55" font-size="6.3" text-anchor="middle" fill="#4a4a4a" stroke="#4a4a4a" stroke-width="0.12">82</text>
<text x="164.26" y="485.55" font-size="6.3" text-anchor="middle" fill="#4a4a4a" stroke="#4a4a4a" stroke-width="0.12">52</text>
<text x="197.68" y="485.55" font-size="6.3" text-anchor="middle" fill="#4a4a4a" stroke="#4a4a4a" stroke-width="0.12">35</text>
<text x="231.10000000000002" y="485.55" font-size="6.3" text-anchor="middle" fill="#4a4a4a" stroke="#4a4a4a" stroke-width="0.12">22</text>
<text x="268.8" y="254.6" font-size="11.5" font-weight="bold" fill="#111">D</text>
<line x1="325.0" y1="251.1" x2="325.0" y2="391.7" stroke="#3c3c3c" stroke-width="1.5"/>
<line x1="324.3" y1="391.0" x2="509.5" y2="391.0" stroke="#3c3c3c" stroke-width="1.5"/>
<line x1="322.0" y1="391.0" x2="325.0" y2="391.0" stroke="#3c3c3c" stroke-width="1"/>
<text x="319.2" y="393.3" font-size="6.5" text-anchor="end" fill="#4a4a4a" stroke="#4a4a4a" stroke-width="0.12">0.00</text>
<line x1="322.0" y1="356.775" x2="325.0" y2="356.775" stroke="#3c3c3c" stroke-width="1"/>
<text x="319.2" y="359.075" font-size="6.5" text-anchor="end" fill="#4a4a4a" stroke="#4a4a4a" stroke-width="0.12">0.25</text>
<line x1="322.0" y1="322.55" x2="325.0" y2="322.55" stroke="#3c3c3c" stroke-width="1"/>
<text x="319.2" y="324.85" font-size="6.5" text-anchor="end" fill="#4a4a4a" stroke="#4a4a4a" stroke-width="0.12">0.50</text>
<line x1="322.0" y1="288.325" x2="325.0" y2="288.325" stroke="#3c3c3c" stroke-width="1"/>
<text x="319.2" y="290.625" font-size="6.5" text-anchor="end" fill="#4a4a4a" stroke="#4a4a4a" stroke-width="0.12">0.75</text>
<line x1="322.0" y1="254.1" x2="325.0" y2="254.1" stroke="#3c3c3c" stroke-width="1"/>
<text x="319.2" y="256.4" font-size="6.5" text-anchor="end" fill="#4a4a4a" stroke="#4a4a4a" stroke-width="0.12">1.00</text>
<line x1="325.0" y1="391.0" x2="325.0" y2="394.0" stroke="#3c3c3c" stroke-width="1"/>
<text x="325.0" y="402.5" font-size="6.5" text-anchor="middle" fill="#4a4a4a" stroke="#4a4a4a" stroke-width="0.12">0</text>
<line x1="358.42" y1="391.0" x2="358.42" y2="394.0" stroke="#3c3c3c" stroke-width="1"/>
<text x="358.42" y="402.5" font-size="6.5" text-anchor="middle" fill="#4a4a4a" stroke="#4a4a4a" stroke-width="0.12">1</text>
<line x1="391.84000000000003" y1="391.0" x2="391.84000000000003" y2="394.0" stroke="#3c3c3c" stroke-width="1"/>
<text x="391.84000000000003" y="402.5" font-size="6.5" text-anchor="middle" fill="#4a4a4a" stroke="#4a4a4a" stroke-width="0.12">2</text>
<line x1="425.26" y1="391.0" x2="425.26" y2="394.0" stroke="#3c3c3c" stroke-width="1"/>
<text x="425.26" y="402.5" font-size="6.5" text-anchor="middle" fill="#4a4a4a" stroke="#4a4a4a" stroke-width="0.12">3</text>
<line x1="458.68" y1="391.0" x2="458.68" y2="394.0" stroke="#3c3c3c" stroke-width="1"/>
<text x="458.68" y="402.5" font-size="6.5" text-anchor="middle" fill="#4a4a4a" stroke="#4a4a4a" stroke-width="0.12">4</text>
<line x1="492.1" y1="391.0" x2="492.1" y2="394.0" stroke="#3c3c3c" stroke-width="1"/>
<text x="492.1" y="402.5" font-size="6.5" text-anchor="middle" fill="#4a4a4a" stroke="#4a4a4a" stroke-width="0.12">5</text>
<text x="0" y="0" font-size="8.8" font-weight="bold" text-anchor="middle" fill="#3a3a3a" transform="translate(416.8,414.6) scale(0.625 1)">Time (years)</text>
<text x="0" y="0" font-size="8.8" font-weight="bold" text-anchor="middle" fill="#3a3a3a" transform="translate(302.0,322.25) rotate(-90) scale(0.62 1)">OS (proportion)</text>
<polyline points="325.0,254.2 335.4,255.0 343.0,256.5 346.2,257.2 366.2,257.5 381.5,258.0 389.2,258.8 395.0,258.8 411.2,259.7 420.4,261.5 429.6,262.7 432.0,265.7 448.0,267.3 450.4,268.9 475.8,270.8 479.2,272.4 509.2,272.4" fill="none" stroke="#EFA235" stroke-width="1.3" stroke-linejoin="miter"/>
<polyline points="325.0,254.2 340.0,255.0 344.6,257.2 347.7,258.8 353.8,259.5 358.5,261.0 364.6,263.4 370.8,266.5 378.5,268.8 386.2,271.8 393.8,274.2 396.9,276.5 406.5,276.5 418.0,278.2 427.3,280.0 448.0,282.3 464.2,283.5 471.2,286.9 496.5,288.0 500.0,292.7 505.8,293.8 509.2,297.3" fill="none" stroke="#1F3F78" stroke-width="1.3" stroke-linejoin="miter"/>
<polyline points="325.0,254.2 329.2,255.7 335.4,258.0 341.5,261.8 350.8,265.7 356.9,269.5 361.5,272.6 366.2,277.2 370.8,281.0 377.0,285.0 384.6,289.5 388.5,292.9 509.2,292.9" fill="none" stroke="#E39A35" stroke-width="1.45" stroke-linejoin="miter" stroke-dasharray="2.5 2.5"/>
<polyline points="325.0,254.2 329.2,257.2 335.4,262.6 343.0,265.7 346.2,271.0 350.8,278.0 355.4,281.8 361.5,288.0 367.7,291.8 375.4,294.2 383.0,297.2 390.8,299.5 398.5,301.8 408.8,306.5 422.7,311.8 441.2,317.0 459.6,319.2 482.7,321.5 496.5,323.4 509.2,324.3" fill="none" stroke="#24406A" stroke-width="1.45" stroke-linejoin="miter" stroke-dasharray="2.5 2.5"/>
<polyline points="325.0,254.2 325.0,261.8 329.2,262.6 335.4,265.0 340.0,268.0 343.0,271.0 347.7,278.8 352.3,286.5 355.4,294.2 358.5,299.5 373.0,299.5 373.0,305.0 509.2,305.0" fill="none" stroke="#A01838" stroke-width="1.45" stroke-linejoin="miter" stroke-dasharray="2.5 2.5"/>
<polyline points="325.0,254.2 332.5,255.0 332.5,258.0 337.3,258.0 337.3,262.9 353.4,262.9 353.4,268.8 359.6,268.8 360.5,274.2 361.5,280.3 366.6,280.3 366.6,285.7 370.4,285.7 370.4,291.5 418.4,291.5 418.4,299.6 464.8,299.6 464.8,310.5 485.4,310.5 485.4,319.7 509.2,319.7" fill="none" stroke="#AE1539" stroke-width="1.3" stroke-linejoin="miter"/>
<text x="421.9" y="328.9" font-size="5.8" text-anchor="start" fill="#4a4a4a" stroke="#4a4a4a" stroke-width="0.12">2y OS (%)</text>
<line x1="327.8" y1="336.6" x2="342.7" y2="336.6" stroke="#EFA235" stroke-width="1.45"/>
<text x="346.0" y="338.70000000000005" font-size="6.0" text-anchor="start" fill="#4a4a4a" stroke="#4a4a4a" stroke-width="0.12">GCB IPI Low (n = 229)</text>
<text x="426.59999999999997" y="338.70000000000005" font-size="5.8" text-anchor="start" fill="#4a4a4a" stroke="#4a4a4a" stroke-width="0.12">96.5%</text>
<line x1="327.8" y1="346.0" x2="342.7" y2="346.0" stroke="#EFA235" stroke-width="1.45" stroke-dasharray="2.5 2.5"/>
<text x="346.0" y="348.1" font-size="6.0" text-anchor="start" fill="#4a4a4a" stroke="#4a4a4a" stroke-width="0.12">GCB IPI High (n = 135)</text>
<text x="426.59999999999997" y="348.1" font-size="5.8" text-anchor="start" fill="#4a4a4a" stroke="#4a4a4a" stroke-width="0.12">71.1%</text>
<line x1="327.8" y1="355.6" x2="342.7" y2="355.6" stroke="#AE1539" stroke-width="1.45"/>
<text x="346.0" y="357.70000000000005" font-size="6.0" text-anchor="start" fill="#4a4a4a" stroke="#4a4a4a" stroke-width="0.12">DZsig<tspan font-size="3.6" dy="-2.6">pos</tspan><tspan dy="2.6"> </tspan>IPI Low (n = 31)</text>
<text x="426.59999999999997" y="357.70000000000005" font-size="5.8" text-anchor="start" fill="#4a4a4a" stroke="#4a4a4a" stroke-width="0.12">72.9%</text>
<line x1="327.8" y1="365.1" x2="342.7" y2="365.1" stroke="#AE1539" stroke-width="1.45" stroke-dasharray="2.5 2.5"/>
<text x="346.0" y="367.20000000000005" font-size="6.0" text-anchor="start" fill="#4a4a4a" stroke="#4a4a4a" stroke-width="0.12">DZsig<tspan font-size="3.6" dy="-2.6">pos</tspan><tspan dy="2.6"> </tspan>IPI High (n = 33)</text>
<text x="426.59999999999997" y="367.20000000000005" font-size="5.8" text-anchor="start" fill="#4a4a4a" stroke="#4a4a4a" stroke-width="0.12">62.7%</text>
<line x1="327.8" y1="374.7" x2="342.7" y2="374.7" stroke="#1F3F78" stroke-width="1.45"/>
<text x="346.0" y="376.8" font-size="6.0" text-anchor="start" fill="#4a4a4a" stroke="#4a4a4a" stroke-width="0.12">ABC IPI Low (n = 219)</text>
<text x="426.59999999999997" y="376.8" font-size="5.8" text-anchor="start" fill="#4a4a4a" stroke="#4a4a4a" stroke-width="0.12">86.4%</text>
<line x1="327.8" y1="384.3" x2="342.7" y2="384.3" stroke="#1F3F78" stroke-width="1.45" stroke-dasharray="2.5 2.5"/>
<text x="346.0" y="386.40000000000003" font-size="6.0" text-anchor="start" fill="#4a4a4a" stroke="#4a4a4a" stroke-width="0.12">ABC IPI High (n = 242)</text>
<text x="426.59999999999997" y="386.40000000000003" font-size="5.8" text-anchor="start" fill="#4a4a4a" stroke="#4a4a4a" stroke-width="0.12">66.1%</text>
<polyline points="458.2,336.3 460.8,336.3 460.8,345.6 458.2,345.6" fill="none" stroke="#2e2e2e" stroke-width="1.25"/>
<rect x="463.85" y="337.32500000000005" width="1.5" height="1.4" fill="#585858"/>
<rect x="463.85" y="339.27500000000003" width="1.5" height="1.4" fill="#585858"/>
<rect x="463.85" y="341.225" width="1.5" height="1.4" fill="#585858"/>
<rect x="463.85" y="343.17500000000007" width="1.5" height="1.4" fill="#585858"/>
<polyline points="458.2,355.3 460.8,355.3 460.8,365.2 458.2,365.2" fill="none" stroke="#2e2e2e" stroke-width="1.25"/>
<text x="0" y="0" font-size="5.4" text-anchor="middle" fill="#585858" stroke="#585858" stroke-width="0.2" transform="translate(463.0,360.25) rotate(90)">ns</text>
<polyline points="458.2,374.5 460.8,374.5 460.8,384.2 458.2,384.2" fill="none" stroke="#2e2e2e" stroke-width="1.25"/>
<rect x="463.85" y="375.725" width="1.5" height="1.4" fill="#585858"/>
<rect x="463.85" y="377.675" width="1.5" height="1.4" fill="#585858"/>
<rect x="463.85" y="379.625" width="1.5" height="1.4" fill="#585858"/>
<rect x="463.85" y="381.57500000000005" width="1.5" height="1.4" fill="#585858"/>
<text x="284.5" y="424.70000000000005" font-size="6.0" text-anchor="start" fill="#4a4a4a" stroke="#4a4a4a" stroke-width="0.12">Number at risk</text>
<line x1="296.7" y1="432.6" x2="312.2" y2="432.6" stroke="#EFA235" stroke-width="1.45"/>
<text x="325.0" y="434.8" font-size="6.3" text-anchor="middle" fill="#4a4a4a" stroke="#4a4a4a" stroke-width="0.12">229</text>
<text x="358.42" y="434.8" font-size="6.3" text-anchor="middle" fill="#4a4a4a" stroke="#4a4a4a" stroke-width="0.12">189</text>
<text x="391.84000000000003" y="434.8" font-size="6.3" text-anchor="middle" fill="#4a4a4a" stroke="#4a4a4a" stroke-width="0.12">158</text>
<text x="425.26" y="434.8" font-size="6.3" text-anchor="middle" fill="#4a4a4a" stroke="#4a4a4a" stroke-width="0.12">122</text>
<text x="458.68" y="434.8" font-size="6.3" text-anchor="middle" fill="#4a4a4a" stroke="#4a4a4a" stroke-width="0.12">97</text>
<text x="492.1" y="434.8" font-size="6.3" text-anchor="middle" fill="#4a4a4a" stroke="#4a4a4a" stroke-width="0.12">76</text>
<line x1="296.7" y1="442.75" x2="312.2" y2="442.75" stroke="#EFA235" stroke-width="1.45" stroke-dasharray="2.5 2.5"/>
<text x="325.0" y="444.95" font-size="6.3" text-anchor="middle" fill="#4a4a4a" stroke="#4a4a4a" stroke-width="0.12">135</text>
<text x="358.42" y="444.95" font-size="6.3" text-anchor="middle" fill="#4a4a4a" stroke="#4a4a4a" stroke-width="0.12">94</text>
<text x="391.84000000000003" y="444.95" font-size="6.3" text-anchor="middle" fill="#4a4a4a" stroke="#4a4a4a" stroke-width="0.12">59</text>
<text x="425.26" y="444.95" font-size="6.3" text-anchor="middle" fill="#4a4a4a" stroke="#4a4a4a" stroke-width="0.12">43</text>
<text x="458.68" y="444.95" font-size="6.3" text-anchor="middle" fill="#4a4a4a" stroke="#4a4a4a" stroke-width="0.12">30</text>
<text x="492.1" y="444.95" font-size="6.3" text-anchor="middle" fill="#4a4a4a" stroke="#4a4a4a" stroke-width="0.12">23</text>
<line x1="296.7" y1="452.90000000000003" x2="312.2" y2="452.90000000000003" stroke="#AE1539" stroke-width="1.45"/>
<text x="325.0" y="455.1" font-size="6.3" text-anchor="middle" fill="#4a4a4a" stroke="#4a4a4a" stroke-width="0.12">31</text>
<text x="358.42" y="455.1" font-size="6.3" text-anchor="middle" fill="#4a4a4a" stroke="#4a4a4a" stroke-width="0.12">22</text>
<text x="391.84000000000003" y="455.1" font-size="6.3" text-anchor="middle" fill="#4a4a4a" stroke="#4a4a4a" stroke-width="0.12">14</text>
<text x="425.26" y="455.1" font-size="6.3" text-anchor="middle" fill="#4a4a4a" stroke="#4a4a4a" stroke-width="0.12">10</text>
<text x="458.68" y="455.1" font-size="6.3" text-anchor="middle" fill="#4a4a4a" stroke="#4a4a4a" stroke-width="0.12">9</text>
<text x="492.1" y="455.1" font-size="6.3" text-anchor="middle" fill="#4a4a4a" stroke="#4a4a4a" stroke-width="0.12">6</text>
<line x1="296.7" y1="463.05" x2="312.2" y2="463.05" stroke="#AE1539" stroke-width="1.45" stroke-dasharray="2.5 2.5"/>
<text x="325.0" y="465.25" font-size="6.3" text-anchor="middle" fill="#4a4a4a" stroke="#4a4a4a" stroke-width="0.12">33</text>
<text x="358.42" y="465.25" font-size="6.3" text-anchor="middle" fill="#4a4a4a" stroke="#4a4a4a" stroke-width="0.12">19</text>
<text x="391.84000000000003" y="465.25" font-size="6.3" text-anchor="middle" fill="#4a4a4a" stroke="#4a4a4a" stroke-width="0.12">13</text>
<text x="425.26" y="465.25" font-size="6.3" text-anchor="middle" fill="#4a4a4a" stroke="#4a4a4a" stroke-width="0.12">10</text>
<text x="458.68" y="465.25" font-size="6.3" text-anchor="middle" fill="#4a4a4a" stroke="#4a4a4a" stroke-width="0.12">7</text>
<text x="492.1" y="465.25" font-size="6.3" text-anchor="middle" fill="#4a4a4a" stroke="#4a4a4a" stroke-width="0.12">4</text>
<line x1="296.7" y1="473.20000000000005" x2="312.2" y2="473.20000000000005" stroke="#1F3F78" stroke-width="1.45"/>
<text x="325.0" y="475.40000000000003" font-size="6.3" text-anchor="middle" fill="#4a4a4a" stroke="#4a4a4a" stroke-width="0.12">219</text>
<text x="358.42" y="475.40000000000003" font-size="6.3" text-anchor="middle" fill="#4a4a4a" stroke="#4a4a4a" stroke-width="0.12">166</text>
<text x="391.84000000000003" y="475.40000000000003" font-size="6.3" text-anchor="middle" fill="#4a4a4a" stroke="#4a4a4a" stroke-width="0.12">134</text>
<text x="425.26" y="475.40000000000003" font-size="6.3" text-anchor="middle" fill="#4a4a4a" stroke="#4a4a4a" stroke-width="0.12">107</text>
<text x="458.68" y="475.40000000000003" font-size="6.3" text-anchor="middle" fill="#4a4a4a" stroke="#4a4a4a" stroke-width="0.12">76</text>
<text x="492.1" y="475.40000000000003" font-size="6.3" text-anchor="middle" fill="#4a4a4a" stroke="#4a4a4a" stroke-width="0.12">56</text>
<line x1="296.7" y1="483.35" x2="312.2" y2="483.35" stroke="#1F3F78" stroke-width="1.45" stroke-dasharray="2.5 2.5"/>
<text x="325.0" y="485.55" font-size="6.3" text-anchor="middle" fill="#4a4a4a" stroke="#4a4a4a" stroke-width="0.12">242</text>
<text x="358.42" y="485.55" font-size="6.3" text-anchor="middle" fill="#4a4a4a" stroke="#4a4a4a" stroke-width="0.12">158</text>
<text x="391.84000000000003" y="485.55" font-size="6.3" text-anchor="middle" fill="#4a4a4a" stroke="#4a4a4a" stroke-width="0.12">111</text>
<text x="425.26" y="485.55" font-size="6.3" text-anchor="middle" fill="#4a4a4a" stroke="#4a4a4a" stroke-width="0.12">73</text>
<text x="458.68" y="485.55" font-size="6.3" text-anchor="middle" fill="#4a4a4a" stroke="#4a4a4a" stroke-width="0.12">53</text>
<text x="492.1" y="485.55" font-size="6.3" text-anchor="middle" fill="#4a4a4a" stroke="#4a4a4a" stroke-width="0.12">38</text>
<text x="7.3" y="513" font-size="11.5" font-weight="bold" fill="#111">E</text>
<rect x="18" y="615.2" width="235.8" height="42.5" fill="#DCDCDE"/>
<line x1="18" y1="528.4" x2="253.8" y2="528.4" stroke="#3c3c3c" stroke-width="1.5"/>
<line x1="18" y1="614.8" x2="253.8" y2="614.8" stroke="#3c3c3c" stroke-width="1.5"/>
<line x1="18" y1="658.0" x2="253.8" y2="658.0" stroke="#3c3c3c" stroke-width="1.5"/>
<text x="129.2" y="524.3" font-size="6.4" text-anchor="start" fill="#4a4a4a" stroke="#4a4a4a" stroke-width="0.12">PFS - Hazard ratio ( 95% CI )</text>
<text x="226.1" y="524.3" font-size="6.4" fill="#4a4a4a"><tspan font-style="italic">P</tspan> value</text>
<line x1="97.0" y1="529.2" x2="97.0" y2="664" stroke="#C4C4C4" stroke-width="0.9"/>
<text x="23" y="537.6" font-size="6.3" text-anchor="start" fill="#4a4a4a" stroke="#4a4a4a" stroke-width="0.12">Refined</text>
<text x="23" y="545.2" font-size="6.3" text-anchor="start" fill="#4a4a4a" stroke="#4a4a4a" stroke-width="0.12">COO</text>
<text x="23" y="627.6" font-size="6.3" text-anchor="start" fill="#4a4a4a" stroke="#4a4a4a" stroke-width="0.12">IPI</text>
<text x="53.8" y="537.8" font-size="6.5" text-anchor="start" fill="#4a4a4a" stroke="#4a4a4a" stroke-width="0.12">GCB</text>
<text x="53.8" y="545.5" font-size="6.6" text-anchor="start" fill="#4a4a4a" stroke="#4a4a4a" stroke-width="0.12">(n = 367)</text>
<text x="53.8" y="558.9" font-size="6.5" text-anchor="start" fill="#4a4a4a" stroke="#4a4a4a" stroke-width="0.12">DZsig<tspan font-size="3.6" dy="-2.6">pos</tspan></text>
<text x="53.8" y="566.6" font-size="6.6" text-anchor="start" fill="#4a4a4a" stroke="#4a4a4a" stroke-width="0.12">(n = 65)</text>
<text x="53.8" y="580.5" font-size="6.5" text-anchor="start" fill="#4a4a4a" stroke="#4a4a4a" stroke-width="0.12">ABC</text>
<text x="53.8" y="588.2" font-size="6.6" text-anchor="start" fill="#4a4a4a" stroke="#4a4a4a" stroke-width="0.12">(n = 468)</text>
<text x="53.8" y="601.9" font-size="6.5" text-anchor="start" fill="#4a4a4a" stroke="#4a4a4a" stroke-width="0.12">UNC</text>
<text x="53.8" y="609.6" font-size="6.6" text-anchor="start" fill="#4a4a4a" stroke="#4a4a4a" stroke-width="0.12">(n = 150)</text>
<text x="53.8" y="623.5999999999999" font-size="6.5" text-anchor="start" fill="#4a4a4a" stroke="#4a4a4a" stroke-width="0.12">Low</text>
<text x="53.8" y="631.3" font-size="6.6" text-anchor="start" fill="#4a4a4a" stroke="#4a4a4a" stroke-width="0.12">(n = 553)</text>
<text x="53.8" y="645.3" font-size="6.5" text-anchor="start" fill="#4a4a4a" stroke="#4a4a4a" stroke-width="0.12">High</text>
<text x="53.8" y="653.0" font-size="6.6" text-anchor="start" fill="#4a4a4a" stroke="#4a4a4a" stroke-width="0.12">(n = 481)</text>
<rect x="95.1" y="537.5" width="3.8" height="3.6" fill="#A8123A"/>
<line x1="126.24342731106573" y1="560.9" x2="170.57317778884772" y2="560.9" stroke="#4a4a4a" stroke-width="1.15"/>
<line x1="126.24342731106573" y1="559.6" x2="126.24342731106573" y2="562.1999999999999" stroke="#333" stroke-width="1.0"/>
<line x1="170.57317778884772" y1="559.6" x2="170.57317778884772" y2="562.1999999999999" stroke="#333" stroke-width="1.0"/>
<rect x="147.75914400829248" y="559.1" width="3.8" height="3.6" fill="#A8123A"/>
<text x="197.8" y="559.0" font-size="6.3" text-anchor="middle" fill="#4a4a4a" stroke="#4a4a4a" stroke-width="0.12">2.6</text>
<text x="197.8" y="567.4" font-size="6.3" text-anchor="middle" fill="#4a4a4a" stroke="#4a4a4a" stroke-width="0.12" word-spacing="0.9">(1.7 − 3.8)</text>
<text x="227.7" y="563.1" font-size="6.3" text-anchor="start" fill="#4a4a4a" stroke="#4a4a4a" stroke-width="0.12">&lt;.001</text>
<line x1="111.45914400829248" y1="582.6" x2="140.45263460724752" y2="582.6" stroke="#4a4a4a" stroke-width="1.15"/>
<line x1="111.45914400829248" y1="581.3000000000001" x2="111.45914400829248" y2="583.9" stroke="#333" stroke-width="1.0"/>
<line x1="140.45263460724752" y1="581.3000000000001" x2="140.45263460724752" y2="583.9" stroke="#333" stroke-width="1.0"/>
<rect x="124.34342731106572" y="580.8000000000001" width="3.8" height="3.6" fill="#A8123A"/>
<text x="197.8" y="580.7" font-size="6.3" text-anchor="middle" fill="#4a4a4a" stroke="#4a4a4a" stroke-width="0.12">1.7</text>
<text x="197.8" y="589.1" font-size="6.3" text-anchor="middle" fill="#4a4a4a" stroke="#4a4a4a" stroke-width="0.12" word-spacing="0.9">(1.3 − 2.2)</text>
<text x="227.7" y="584.8000000000001" font-size="6.3" text-anchor="start" fill="#4a4a4a" stroke="#4a4a4a" stroke-width="0.12">&lt;.001</text>
<line x1="102.25263460724751" y1="603.4" x2="137.88887232545142" y2="603.4" stroke="#4a4a4a" stroke-width="1.15"/>
<line x1="102.25263460724751" y1="602.1" x2="102.25263460724751" y2="604.6999999999999" stroke="#333" stroke-width="1.0"/>
<line x1="137.88887232545142" y1="602.1" x2="137.88887232545142" y2="604.6999999999999" stroke="#333" stroke-width="1.0"/>
<rect x="117.44556752754816" y="601.6" width="3.8" height="3.6" fill="#A8123A"/>
<text x="197.8" y="601.5" font-size="6.3" text-anchor="middle" fill="#4a4a4a" stroke="#4a4a4a" stroke-width="0.12">1.5</text>
<text x="197.8" y="609.9" font-size="6.3" text-anchor="middle" fill="#4a4a4a" stroke="#4a4a4a" stroke-width="0.12" word-spacing="0.9">(1.1 − 2.1)</text>
<text x="227.7" y="605.6" font-size="6.3" text-anchor="start" fill="#4a4a4a" stroke="#4a4a4a" stroke-width="0.12">.014</text>
<rect x="95.1" y="623.5" width="3.8" height="3.6" fill="#A8123A"/>
<line x1="137.88887232545142" y1="647.4" x2="161.10234677530275" y2="647.4" stroke="#4a4a4a" stroke-width="1.15"/>
<line x1="137.88887232545142" y1="646.1" x2="137.88887232545142" y2="648.6999999999999" stroke="#333" stroke-width="1.0"/>
<line x1="161.10234677530275" y1="646.1" x2="161.10234677530275" y2="648.6999999999999" stroke="#333" stroke-width="1.0"/>
<rect x="147.75914400829248" y="645.6" width="3.8" height="3.6" fill="#A8123A"/>
<text x="197.8" y="645.5" font-size="6.3" text-anchor="middle" fill="#4a4a4a" stroke="#4a4a4a" stroke-width="0.12">2.6</text>
<text x="197.8" y="653.9" font-size="6.3" text-anchor="middle" fill="#4a4a4a" stroke="#4a4a4a" stroke-width="0.12" word-spacing="0.9">(2.1 − 3.2)</text>
<text x="227.7" y="649.6" font-size="6.3" text-anchor="start" fill="#4a4a4a" stroke="#4a4a4a" stroke-width="0.12">&lt;.001</text>
<line x1="96.0" y1="664.3" x2="174.4" y2="664.3" stroke="#3c3c3c" stroke-width="1.3"/>
<line x1="97.0" y1="664.3" x2="97.0" y2="666.6" stroke="#3c3c3c" stroke-width="0.9"/>
<text x="0" y="0" font-size="6.3" text-anchor="end" fill="#4a4a4a" transform="translate(99.9,672.3) rotate(-45)">1</text>
<line x1="119.34556752754817" y1="664.3" x2="119.34556752754817" y2="666.6" stroke="#3c3c3c" stroke-width="0.9"/>
<text x="0" y="0" font-size="6.3" text-anchor="end" fill="#4a4a4a" transform="translate(122.24556752754818,672.3) rotate(-45)">1.5</text>
<line x1="135.2" y1="664.3" x2="135.2" y2="666.6" stroke="#3c3c3c" stroke-width="0.9"/>
<text x="0" y="0" font-size="6.3" text-anchor="end" fill="#4a4a4a" transform="translate(138.1,672.3) rotate(-45)">2</text>
<line x1="147.49765322469725" y1="664.3" x2="147.49765322469725" y2="666.6" stroke="#3c3c3c" stroke-width="0.9"/>
<text x="0" y="0" font-size="6.3" text-anchor="end" fill="#4a4a4a" transform="translate(150.39765322469725,672.3) rotate(-45)">2.5</text>
<line x1="157.54556752754817" y1="664.3" x2="157.54556752754817" y2="666.6" stroke="#3c3c3c" stroke-width="0.9"/>
<text x="0" y="0" font-size="6.3" text-anchor="end" fill="#4a4a4a" transform="translate(160.44556752754818,672.3) rotate(-45)">3</text>
<line x1="166.04095802260048" y1="664.3" x2="166.04095802260048" y2="666.6" stroke="#3c3c3c" stroke-width="0.9"/>
<text x="0" y="0" font-size="6.3" text-anchor="end" fill="#4a4a4a" transform="translate(168.94095802260048,672.3) rotate(-45)">3.5</text>
<line x1="173.4" y1="664.3" x2="173.4" y2="666.6" stroke="#3c3c3c" stroke-width="0.9"/>
<text x="0" y="0" font-size="6.3" text-anchor="end" fill="#4a4a4a" transform="translate(176.3,672.3) rotate(-45)">4</text>
<text x="269.6" y="513" font-size="11.5" font-weight="bold" fill="#111">F</text>
<rect x="280.3" y="615.2" width="233.2" height="42.5" fill="#DCDCDE"/>
<line x1="280.3" y1="528.4" x2="513.5" y2="528.4" stroke="#3c3c3c" stroke-width="1.5"/>
<line x1="280.3" y1="614.8" x2="513.5" y2="614.8" stroke="#3c3c3c" stroke-width="1.5"/>
<line x1="280.3" y1="658.0" x2="513.5" y2="658.0" stroke="#3c3c3c" stroke-width="1.5"/>
<text x="395.8" y="524.3" font-size="6.4" text-anchor="start" fill="#4a4a4a" stroke="#4a4a4a" stroke-width="0.12">OS - Hazard ratio ( 95% CI )</text>
<text x="488.7" y="524.3" font-size="6.4" fill="#4a4a4a"><tspan font-style="italic">P</tspan> value</text>
<line x1="362.0" y1="529.2" x2="362.0" y2="664" stroke="#C4C4C4" stroke-width="0.9"/>
<text x="285.3" y="537.6" font-size="6.3" text-anchor="start" fill="#4a4a4a" stroke="#4a4a4a" stroke-width="0.12">Refined</text>
<text x="285.3" y="545.2" font-size="6.3" text-anchor="start" fill="#4a4a4a" stroke="#4a4a4a" stroke-width="0.12">COO</text>
<text x="285.3" y="627.6" font-size="6.3" text-anchor="start" fill="#4a4a4a" stroke="#4a4a4a" stroke-width="0.12">IPI</text>
<text x="318.6" y="537.8" font-size="6.5" text-anchor="start" fill="#4a4a4a" stroke="#4a4a4a" stroke-width="0.12">GCB</text>
<text x="318.6" y="545.5" font-size="6.6" text-anchor="start" fill="#4a4a4a" stroke="#4a4a4a" stroke-width="0.12">(n = 367)</text>
<text x="318.6" y="558.9" font-size="6.5" text-anchor="start" fill="#4a4a4a" stroke="#4a4a4a" stroke-width="0.12">DZsig<tspan font-size="3.6" dy="-2.6">pos</tspan></text>
<text x="318.6" y="566.6" font-size="6.6" text-anchor="start" fill="#4a4a4a" stroke="#4a4a4a" stroke-width="0.12">(n = 65)</text>
<text x="318.6" y="580.5" font-size="6.5" text-anchor="start" fill="#4a4a4a" stroke="#4a4a4a" stroke-width="0.12">ABC</text>
<text x="318.6" y="588.2" font-size="6.6" text-anchor="start" fill="#4a4a4a" stroke="#4a4a4a" stroke-width="0.12">(n = 468)</text>
<text x="318.6" y="601.9" font-size="6.5" text-anchor="start" fill="#4a4a4a" stroke="#4a4a4a" stroke-width="0.12">UNC</text>
<text x="318.6" y="609.6" font-size="6.6" text-anchor="start" fill="#4a4a4a" stroke="#4a4a4a" stroke-width="0.12">(n = 150)</text>
<text x="318.6" y="623.5999999999999" font-size="6.5" text-anchor="start" fill="#4a4a4a" stroke="#4a4a4a" stroke-width="0.12">Low</text>
<text x="318.6" y="631.3" font-size="6.6" text-anchor="start" fill="#4a4a4a" stroke="#4a4a4a" stroke-width="0.12">(n = 553)</text>
<text x="318.6" y="645.3" font-size="6.5" text-anchor="start" fill="#4a4a4a" stroke="#4a4a4a" stroke-width="0.12">High</text>
<text x="318.6" y="653.0" font-size="6.6" text-anchor="start" fill="#4a4a4a" stroke="#4a4a4a" stroke-width="0.12">(n = 481)</text>
<rect x="360.1" y="537.5" width="3.8" height="3.6" fill="#A8123A"/>
<line x1="379.54817980220423" y1="560.9" x2="430.2340385373084" y2="560.9" stroke="#4a4a4a" stroke-width="1.15"/>
<line x1="379.54817980220423" y1="559.6" x2="379.54817980220423" y2="562.1999999999999" stroke="#333" stroke-width="1.0"/>
<line x1="430.2340385373084" y1="559.6" x2="430.2340385373084" y2="562.1999999999999" stroke="#333" stroke-width="1.0"/>
<rect x="403.5390640812829" y="559.1" width="3.8" height="3.6" fill="#A8123A"/>
<text x="461.0" y="559.0" font-size="6.3" text-anchor="middle" fill="#4a4a4a" stroke="#4a4a4a" stroke-width="0.12">2.3</text>
<text x="461.0" y="567.4" font-size="6.3" text-anchor="middle" fill="#4a4a4a" stroke="#4a4a4a" stroke-width="0.12" word-spacing="0.9">(1.40 − 3.7)</text>
<text x="490.3" y="563.1" font-size="6.3" text-anchor="start" fill="#4a4a4a" stroke="#4a4a4a" stroke-width="0.12">&lt;.001</text>
<line x1="376.8730587830117" y1="582.6" x2="409.78770063017816" y2="582.6" stroke="#4a4a4a" stroke-width="1.15"/>
<line x1="376.8730587830117" y1="581.3000000000001" x2="376.8730587830117" y2="583.9" stroke="#333" stroke-width="1.0"/>
<line x1="409.78770063017816" y1="581.3000000000001" x2="409.78770063017816" y2="583.9" stroke="#333" stroke-width="1.0"/>
<rect x="390.75508817196146" y="580.8000000000001" width="3.8" height="3.6" fill="#A8123A"/>
<text x="461.0" y="580.7" font-size="6.3" text-anchor="middle" fill="#4a4a4a" stroke="#4a4a4a" stroke-width="0.12">1.8</text>
<text x="461.0" y="589.1" font-size="6.3" text-anchor="middle" fill="#4a4a4a" stroke="#4a4a4a" stroke-width="0.12" word-spacing="0.9">(1.33 − 2.5)</text>
<text x="490.3" y="584.8000000000001" font-size="6.3" text-anchor="start" fill="#4a4a4a" stroke="#4a4a4a" stroke-width="0.12">&lt;.001</text>
<line x1="360.9463596044085" y1="603.4" x2="403.12075238356016" y2="603.4" stroke="#4a4a4a" stroke-width="1.15"/>
<line x1="360.9463596044085" y1="602.1" x2="360.9463596044085" y2="604.6999999999999" stroke="#333" stroke-width="1.0"/>
<line x1="403.12075238356016" y1="602.1" x2="403.12075238356016" y2="604.6999999999999" stroke="#333" stroke-width="1.0"/>
<rect x="381.24639440106984" y="601.6" width="3.8" height="3.6" fill="#A8123A"/>
<text x="461.0" y="601.5" font-size="6.3" text-anchor="middle" fill="#4a4a4a" stroke="#4a4a4a" stroke-width="0.12">1.5</text>
<text x="461.0" y="609.9" font-size="6.3" text-anchor="middle" fill="#4a4a4a" stroke="#4a4a4a" stroke-width="0.12" word-spacing="0.9">(0.98 − 2.2)</text>
<text x="490.3" y="605.6" font-size="6.3" text-anchor="start" fill="#4a4a4a" stroke="#4a4a4a" stroke-width="0.12">.062</text>
<rect x="360.1" y="623.5" width="3.8" height="3.6" fill="#A8123A"/>
<line x1="393.5171478936118" y1="647.4" x2="421.00649599030737" y2="647.4" stroke="#4a4a4a" stroke-width="1.15"/>
<line x1="393.5171478936118" y1="646.1" x2="393.5171478936118" y2="648.6999999999999" stroke="#333" stroke-width="1.0"/>
<line x1="421.00649599030737" y1="646.1" x2="421.00649599030737" y2="648.6999999999999" stroke="#333" stroke-width="1.0"/>
<rect x="405.7586937708917" y="645.6" width="3.8" height="3.6" fill="#A8123A"/>
<text x="461.0" y="645.5" font-size="6.3" text-anchor="middle" fill="#4a4a4a" stroke="#4a4a4a" stroke-width="0.12">2.4</text>
<text x="461.0" y="653.9" font-size="6.3" text-anchor="middle" fill="#4a4a4a" stroke="#4a4a4a" stroke-width="0.12" word-spacing="0.9">(1.83 − 3.1)</text>
<text x="490.3" y="649.6" font-size="6.3" text-anchor="start" fill="#4a4a4a" stroke="#4a4a4a" stroke-width="0.12">&lt;.001</text>
<line x1="361.0" y1="664.3" x2="435.3" y2="664.3" stroke="#3c3c3c" stroke-width="1.3"/>
<line x1="362.0" y1="664.3" x2="362.0" y2="666.6" stroke="#3c3c3c" stroke-width="0.9"/>
<text x="0" y="0" font-size="6.3" text-anchor="end" fill="#4a4a4a" transform="translate(364.9,672.3) rotate(-45)">1</text>
<line x1="383.1463944010698" y1="664.3" x2="383.1463944010698" y2="666.6" stroke="#3c3c3c" stroke-width="0.9"/>
<text x="0" y="0" font-size="6.3" text-anchor="end" fill="#4a4a4a" transform="translate(386.0463944010698,672.3) rotate(-45)">1.5</text>
<line x1="398.15" y1="664.3" x2="398.15" y2="666.6" stroke="#3c3c3c" stroke-width="0.9"/>
<text x="0" y="0" font-size="6.3" text-anchor="end" fill="#4a4a4a" transform="translate(401.04999999999995,672.3) rotate(-45)">2</text>
<line x1="409.78770063017816" y1="664.3" x2="409.78770063017816" y2="666.6" stroke="#3c3c3c" stroke-width="0.9"/>
<text x="0" y="0" font-size="6.3" text-anchor="end" fill="#4a4a4a" transform="translate(412.68770063017814,672.3) rotate(-45)">2.5</text>
<line x1="419.2963944010698" y1="664.3" x2="419.2963944010698" y2="666.6" stroke="#3c3c3c" stroke-width="0.9"/>
<text x="0" y="0" font-size="6.3" text-anchor="end" fill="#4a4a4a" transform="translate(422.19639440106977,672.3) rotate(-45)">3</text>
<line x1="427.3358804323824" y1="664.3" x2="427.3358804323824" y2="666.6" stroke="#3c3c3c" stroke-width="0.9"/>
<text x="0" y="0" font-size="6.3" text-anchor="end" fill="#4a4a4a" transform="translate(430.2358804323824,672.3) rotate(-45)">3.5</text>
<line x1="434.3" y1="664.3" x2="434.3" y2="666.6" stroke="#3c3c3c" stroke-width="0.9"/>
<text x="0" y="0" font-size="6.3" text-anchor="end" fill="#4a4a4a" transform="translate(437.2,672.3) rotate(-45)">4</text>
<rect x="0.5" y="0.5" width="519" height="685" fill="none" stroke="#4a4a4a" stroke-width="1.2"/>
</svg></body></html>
